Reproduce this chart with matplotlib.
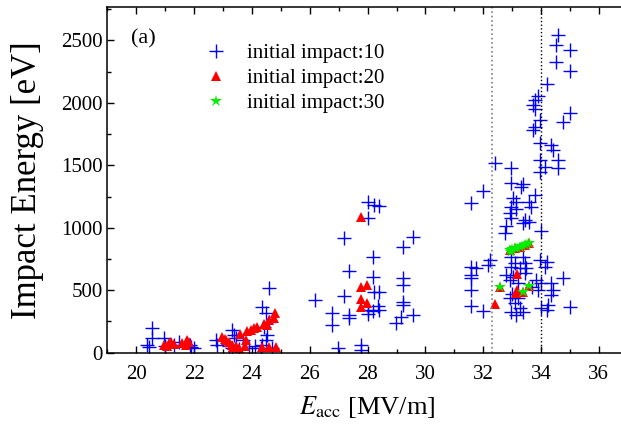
import numpy as np
import matplotlib
matplotlib.use('Agg')
import matplotlib.pyplot as plt
from matplotlib.ticker import MultipleLocator

plt.rcParams['font.family'] = ['Liberation Serif', 'DejaVu Serif']
plt.rcParams['mathtext.fontset'] = 'stix'

# initial impact:10 (blue crosses)
x10 = [20.54, 20.54, 20.37, 20.45, 20.95, 21.0, 21.47, 21.87, 22.0, 21.3, 21.9,
       22.74, 22.8, 23.32, 23.37, 23.43, 23.2, 23.32, 23.55, 23.9, 24.1, 24.3,
       24.36, 24.59, 24.47, 24.59, 24.4, 24.53, 24.47, 24.36, 24.7, 23.7,
       28.0, 28.23, 28.4, 28.0, 27.19, 28.17, 27.36, 28.17, 27.19, 26.19, 28.23,
       28.4, 26.78, 26.78, 27.36, 27.36, 28.0, 28.0, 28.17, 28.35, 28.4, 27.77,
       27.77, 26.96, 29.21, 29.56, 29.21, 29.21, 29.21, 29.21, 28.98, 29.16, 29.56,
       34.59, 34.53, 35.0, 34.53, 35.0, 34.19, 33.9, 33.78, 33.72, 33.78, 35.0,
       34.76, 33.95, 33.78, 33.72, 33.95, 34.36, 34.42, 34.59, 34.59, 33.95, 34.13,
       33.95, 32.39, 32.97, 31.99, 31.58, 32.97, 33.32, 33.38, 33.78, 33.6, 33.66,
       33.02, 33.15, 32.97, 33.15, 32.91, 32.97, 33.43, 33.6, 33.38, 32.8, 32.74,
       34.01, 32.97, 33.38, 33.43, 33.26, 33.49, 33.43, 32.97, 33.03, 32.8, 32.91,
       33.1, 33.2, 31.58, 31.76, 31.58, 31.58, 32.22, 32.16, 31.58, 31.58, 31.99,
       32.91, 33.09, 33.26, 32.97, 33.38, 33.15, 33.0, 33.2, 33.84, 34.01, 34.36,
       34.42, 34.36, 34.76, 34.24, 34.01, 34.19, 35.0, 33.95, 34.19, 34.13, 33.7, 33.9]
y10 = [195, 117, 62, 45, 115, 50, 88, 62, 38, 60, 45,
       102, 62, 180, 142, 117, 50, 40, 30, 40, 55, 35,
       368, 515, 315, 248, 208, 142, 102, 62, 40, 100,
       1208, 1182, 1173, 1075, 915, 763, 656, 608, 453, 421, 488,
       488, 315, 222, 302, 278, 310, 340, 330, 370, 340, 62,
       22, 35, 848, 928, 595, 542, 408, 382, 235, 288, 302,
       2542, 2462, 2427, 2328, 2255, 2155, 2053, 2021, 1982, 1955, 1920,
       1848, 1862, 1808, 1782, 1680, 1662, 1622, 1542, 1475, 1542, 1488,
       1448, 1520, 1475, 1296, 1195, 1355, 1328, 1350, 1262, 1208, 1168,
       1237, 1208, 1168, 1147, 1120, 1075, 1062, 1048, 1035, 1013, 955,
       976, 768, 768, 715, 675, 675, 635, 688, 608, 622, 582,
       720, 560, 688, 675, 622, 595, 742, 702, 502, 374, 336,
       435, 395, 355, 328, 328, 302, 470, 440, 582, 555, 555,
       502, 462, 595, 382, 355, 342, 368, 742, 728, 688, 530, 500]

# initial impact:20 (red triangles)
x20 = [20.95, 21.12, 21.18, 21.05, 21.3, 21.58, 21.76, 21.81, 21.7,
       22.97, 23.05, 23.1, 23.2, 23.3, 23.35, 23.45, 23.55, 23.75, 23.78, 23.83,
       23.95, 24.06, 24.18, 24.36, 24.59, 24.82, 24.53, 24.6, 24.76, 24.79, 24.4, 23.6,
       27.77, 27.77, 27.97, 27.77, 27.97, 27.77,
       32.39, 32.57, 33.17, 33.17, 33.12, 32.91, 33.09, 33.26, 33.43, 33.6, 33.38, 33.59]
y20 = [62, 75, 88, 50, 70, 75, 102, 88, 60,
       128, 110, 100, 85, 60, 45, 55, 38, 50, 102, 170,
       180, 195, 208, 48, 48, 48, 222, 260, 275, 318, 230, 150,
       1088, 528, 542, 427, 395, 368,
       390, 528, 630, 502, 480, 822, 835, 848, 862, 875, 488, 536]

# initial impact:30 (green stars)
x30 = [32.57, 33.38, 33.59, 32.91, 33.0, 33.09, 33.17, 33.26, 33.35, 33.43, 33.52, 33.6, 32.95]
y30 = [528, 488, 536, 822, 828, 835, 842, 848, 855, 862, 868, 875, 810]

fig = plt.figure(figsize=(6.21, 4.25), dpi=100)
ax = fig.add_axes([0.1731, 0.1701, 0.8378, 0.8141])

ax.plot(x10, y10, '+', color='blue', ms=9.5, mew=1.0, label='initial impact:10')
ax.plot(x20, y20, '^', color='red', ms=7, mew=0, label='initial impact:20')
ax.plot(x30, y30, '*', color='#00ee00', ms=9, mew=0, label='initial impact:30')

ax.axvline(32.32, color='gray', ls=':', lw=1.2)
ax.axvline(34.0, color='black', ls=':', lw=1.0)

ax.set_xlim(19, 37)
ax.set_ylim(0, 2770)
ax.xaxis.set_major_locator(MultipleLocator(2))
ax.xaxis.set_minor_locator(MultipleLocator(1))
ax.yaxis.set_major_locator(MultipleLocator(500))
ax.yaxis.set_minor_locator(MultipleLocator(250))
ax.tick_params(which='both', direction='in', top=True, right=True, labelsize=15, width=1)
ax.tick_params(which='major', length=5)
ax.tick_params(which='minor', length=3)
ax.tick_params(axis='x', pad=9)
for s in ax.spines.values():
    s.set_linewidth(1.1)

ax.set_xlabel(r'$E_{\rm acc}$ [MV/m]', fontsize=19, labelpad=7)
ax.set_ylabel('Impact Energy [eV]', fontsize=25, labelpad=12)

ax.text(0.045, 0.935, '(a)', transform=ax.transAxes, fontsize=16, va='top')
ax.legend(loc='upper left', bbox_to_anchor=(0.168, 0.917), frameon=False, fontsize=15,
          handlelength=1.2, handletextpad=0.9, labelspacing=0.25, borderaxespad=0)

fig.savefig('out.png', dpi=100)
